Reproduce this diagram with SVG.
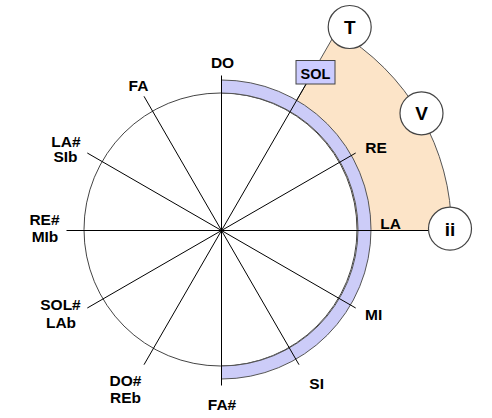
<svg xmlns="http://www.w3.org/2000/svg" width="492" height="418" viewBox="0 0 492 418">
<style>
text{font-family:"Liberation Sans",Arial,sans-serif;font-weight:bold;fill:#000;text-anchor:middle}
.lbl{font-size:15.5px}
.big{font-size:19px}
.spoke{stroke:#000;stroke-width:1;fill:none}
.node{fill:#fff;stroke:#444;stroke-width:1.2}
</style>
<rect width="492" height="418" fill="#fff"/>
<g id="sector">
<path d="M221.5,230.5 L336.5,31.3 A230,230 0 0 1 451.5,230.5 Z" fill="#fce4c8" stroke="#555" stroke-width="1"/>
</g>
<g id="circle">
<circle cx="220.5" cy="229.5" r="136.5" fill="#fff" stroke="#444" stroke-width="1"/>
</g>
<g id="band">
<path d="M221.5,80 A149.5,149.5 0 0 1 221.5,379 L221.5,366 A136.5,136.5 0 0 0 221.5,93 Z" fill="#ccccf8" stroke="#555" stroke-width="1"/>
</g>
<g id="connectors">
<line class="spoke" x1="221.5" y1="230.5" x2="221.5" y2="75.5"/>
<line class="spoke" x1="221.5" y1="230.5" x2="309" y2="79"/>
<line class="spoke" x1="221.5" y1="230.5" x2="355.7" y2="153"/>
<line class="spoke" x1="221.5" y1="230.5" x2="440" y2="230.5"/>
<line class="spoke" x1="221.5" y1="230.5" x2="355.7" y2="308"/>
<line class="spoke" x1="221.5" y1="230.5" x2="299" y2="364.7"/>
<line class="spoke" x1="221.5" y1="230.5" x2="221.5" y2="385.5"/>
<line class="spoke" x1="221.5" y1="230.5" x2="144" y2="364.7"/>
<line class="spoke" x1="221.5" y1="230.5" x2="87.3" y2="308"/>
<line class="spoke" x1="221.5" y1="230.5" x2="66.5" y2="230.5"/>
<line class="spoke" x1="221.5" y1="230.5" x2="87.3" y2="153"/>
<line class="spoke" x1="221.5" y1="230.5" x2="144" y2="96.3"/>
</g>
<g id="labels">
<text class="lbl" x="222.5" y="68">DO</text>
<text class="lbl" x="138.5" y="90.5">FA</text>
<text class="lbl" x="66" y="146.5">LA#</text>
<text class="lbl" x="65.5" y="162">SIb</text>
<text class="lbl" x="44.5" y="225">RE#</text>
<text class="lbl" x="45" y="242">MIb</text>
<text class="lbl" x="60.5" y="309.5">SOL#</text>
<text class="lbl" x="61" y="327.5">LAb</text>
<text class="lbl" x="125.5" y="385.5">DO#</text>
<text class="lbl" x="125.5" y="402.5">REb</text>
<text class="lbl" x="222" y="409.5">FA#</text>
<text class="lbl" x="316.7" y="388.8">SI</text>
<text class="lbl" x="373.7" y="319.8">MI</text>
<text class="lbl" x="390.7" y="228.8">LA</text>
<text class="lbl" x="376" y="152.8">RE</text>
</g>
<g id="node-SOL">
<rect x="296" y="60.5" width="39" height="23.5" fill="#ccccff" stroke="#444" stroke-width="1"/>
<text x="315.5" y="79" style="font-size:14.5px">SOL</text>
</g>
<g id="node-T">
<circle class="node" cx="349.7" cy="27" r="21.5"/>
<text class="big" x="349.7" y="34">T</text>
</g>
<g id="node-V">
<circle class="node" cx="421.5" cy="113.3" r="21.5"/>
<text class="big" x="421.5" y="120">V</text>
</g>
<g id="node-ii">
<circle class="node" cx="450" cy="228.7" r="21.5"/>
<text class="big" x="450" y="235.5">ii</text>
</g>
</svg>
